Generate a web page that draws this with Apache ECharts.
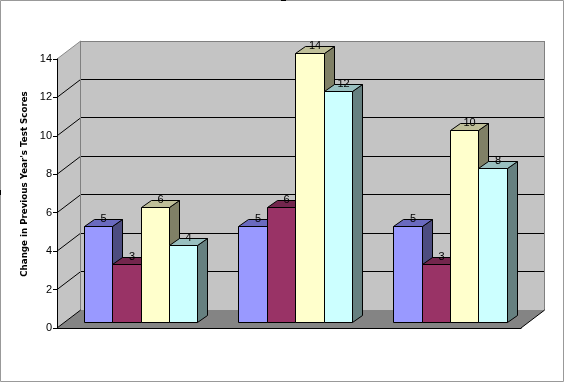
<!DOCTYPE html>
<html>
<head>
<meta charset="utf-8">
<style>html,body{margin:0;padding:0;background:#fff;overflow:hidden}#c{width:564px;height:383px}</style>
<script src="https://cdn.jsdelivr.net/npm/echarts@6/dist/echarts.min.js"></script>
</head>
<body>
<div id="c"></div>
<script>
// Data (the reference shows no category labels)
const categories = ['Group 1', 'Group 2', 'Group 3'];
const seriesA = [5, 5, 5];
const seriesB = [3, 6, 3];
const seriesC = [6, 14, 10];
const seriesD = [4, 12, 8];
const yTicks = [0, 2, 4, 6, 8, 10, 12, 14];
const yTitle = "Change in Previous Year's Test Scores";

// Styling
const faceColors = ['#9999FF', '#993366', '#FFFFCC', '#CCFFFF'];
const topColors = ['#6A6ABF', '#73264D', '#BFBF99', '#99BFBF'];
const sideColors = ['#4D4D80', '#4D1A33', '#808066', '#668080'];
const wallDepth = [23.7, -18];
const barDepth = [10, -7];
const barInset = [0.1765, -5.6];   // x as fraction of band, y in px
const barFrac = 0.1835;

function snap(v) { return Math.floor(v) + 0.5; }
function poly(points, fill, stroke) {
  return { type: 'polygon', shape: { points }, style: { fill, stroke: stroke || 'none', lineWidth: 1 } };
}
function line(a, b, stroke) {
  return { type: 'line', shape: { x1: a[0], y1: a[1], x2: b[0], y2: b[1] }, style: { stroke, lineWidth: 1 } };
}

function renderWalls(params, api) {
  const cs = params.coordSys;
  const L = cs.x, R = cs.x + cs.width, B = cs.y + cs.height, T = cs.y;
  const dx = wallDepth[0], dy = wallDepth[1];
  const kids = [];
  kids.push(poly([[L + dx, T + dy], [R + dx, T + dy], [R + dx, B + dy], [L + dx, B + dy]], '#C4C4C4'));
  kids.push(poly([[L, T], [L + dx, T + dy], [L + dx, B + dy], [L, B]], '#C4C4C4'));
  kids.push(poly([[L, B], [R, B], [R + dx, B + dy], [L + dx, B + dy]], '#848484'));
  yTicks.forEach(function (t) {
    if (t === 0 || t === 14) return;
    const y = api.coord([0, t])[1];
    kids.push(line([L, y], [L + dx, y + dy], '#000'));
    kids.push(line([L + dx, snap(y + dy)], [R + dx, snap(y + dy)], '#000'));
  });
  kids.push(line([L, T], [L + dx, T + dy], '#8a8a8a'));
  kids.push(line([L + dx, snap(T + dy)], [R + dx, snap(T + dy)], '#808080'));
  kids.push(line([snap(L + dx), T + dy], [snap(L + dx), B + dy], '#808080'));
  kids.push(line([snap(R + dx), T + dy], [snap(R + dx), B + dy], '#808080'));
  kids.push(line([L, B], [L + dx, B + dy], '#000'));
  kids.push(line([R, B], [R + dx, B + dy], '#000'));
  return { type: 'group', children: kids };
}

function barRenderer(idx) {
  return function (params, api) {
    const cat = api.value(0), val = api.value(1);
    const band = api.size([1, 0])[0];
    const base = api.coord([cat, 0]), top = api.coord([cat, val]);
    const rawX0 = base[0] - band / 2 + band * (barInset[0] + barFrac * idx);
    const x0 = snap(rawX0);
    const x1 = snap(rawX0 + band * barFrac);
    const yb = snap(base[1] + barInset[1]), yt = snap(top[1] + barInset[1]);
    const dx = barDepth[0], dy = barDepth[1];
    const stroke = '#000';
    return {
      type: 'group',
      children: [
        poly([[x1, yt], [x1 + dx, yt + dy], [x1 + dx, yb + dy], [x1, yb]], sideColors[idx], stroke),
        poly([[x0, yt], [x1, yt], [x1 + dx, yt + dy], [x0 + dx, yt + dy]], topColors[idx], stroke),
        poly([[x0, yt], [x1, yt], [x1, yb], [x0, yb]], faceColors[idx], stroke),
        {
          type: 'text',
          style: {
            text: String(val), x: (x0 + x1) / 2 + dx / 2, y: yt + dy - 1,
            fill: '#000', align: 'center', verticalAlign: 'middle',
            font: '11px "Liberation Sans", sans-serif'
          }
        }
      ]
    };
  };
}

const values = [seriesA, seriesB, seriesC, seriesD];
const barSeries = values.map(function (arr, i) {
  return {
    type: 'custom', name: 'S' + (i + 1), z: 3 + i, clip: false,
    renderItem: barRenderer(i), silent: true,
    encode: { x: 0, y: 1 },
    data: arr.map(function (v, c) { return [c, v]; })
  };
});

const chart = echarts.init(document.getElementById('c'), null, { renderer: 'canvas' });
chart.setOption({
  animation: false,
  backgroundColor: '#fff',
  grid: { left: 57, top: 59, width: 464, height: 269, containLabel: false },
  graphic: [{
    type: 'rect', z: 100, silent: true,
    shape: { x: 0.5, y: 0.5, width: 563, height: 381 },
    style: { fill: 'none', stroke: '#999', lineWidth: 1 }
  }, {
    type: 'rect', z: 101, silent: true,
    shape: { x: 0, y: 190, width: 1, height: 5 }, style: { fill: '#000' }
  }, {
    type: 'rect', z: 101, silent: true,
    shape: { x: 281, y: 0, width: 5, height: 1 }, style: { fill: '#000' }
  }],
  xAxis: {
    type: 'category', data: categories, z: 8,
    axisLine: { show: true, lineStyle: { color: '#000', width: 1 } },
    axisTick: { show: false }, axisLabel: { show: false }, splitLine: { show: false }
  },
  yAxis: {
    type: 'value', min: 0, max: 14, interval: 2, z: 8,
    name: yTitle, nameLocation: 'middle', nameGap: 22, nameRotate: 90,
    nameTextStyle: { color: '#000', fontWeight: 'bold', fontSize: 8.7, fontFamily: 'DejaVu Sans', padding: [0, 0, 0, 19] },
    axisLine: { show: true, lineStyle: { color: '#000', width: 1 } },
    axisTick: { show: true, length: 4, lineStyle: { color: '#000' } },
    axisLabel: {
      color: '#000', fontSize: 11, margin: 5, fontFamily: 'Liberation Sans',
      formatter: function (v) { return yTicks.indexOf(v) >= 0 ? String(v) : ''; }
    },
    splitLine: { show: false }
  },
  series: [{
    type: 'custom', name: 'walls', z: 1, clip: false, silent: true,
    renderItem: renderWalls, data: [[0, 0]], encode: { x: 0, y: 1 }
  }].concat(barSeries)
});
</script>
</body>
</html>
